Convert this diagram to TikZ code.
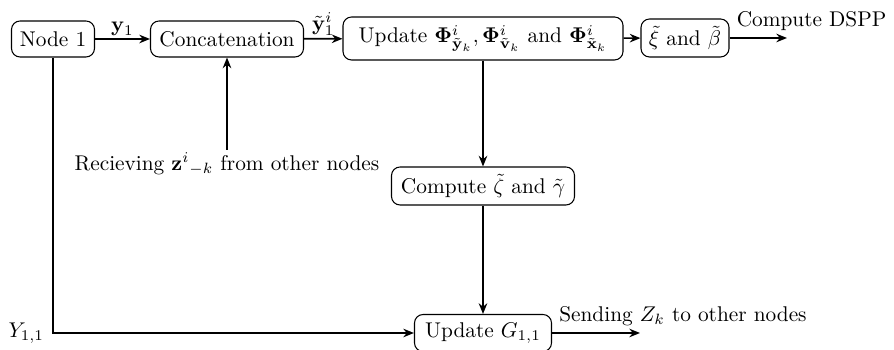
\documentclass[tikz,border=0pt]{standalone}
\usepackage{amsmath,amssymb}
\usetikzlibrary{arrows.meta}
\begin{document}
\begin{tikzpicture}[x=0.469pt,y=-0.469pt,
  box/.style={draw,rounded corners=4pt,inner sep=2pt,line width=0.5pt},
  arr/.style={-{Stealth[length=5pt,width=4pt]},line width=0.8pt},
  lbl/.style={inner sep=1pt}]
\useasboundingbox (0,0) rectangle (894,350);
\node[box,minimum width=83*0.469pt,minimum height=36*0.469pt] (n1) at (53,39) {Node 1};
\node[box,minimum width=153*0.469pt,minimum height=36*0.469pt] (cat) at (227,39) {Concatenation};
\node[box,minimum width=280*0.469pt,minimum height=43*0.469pt] (upd) at (483,38.5) {Update $\mathbf{\Phi}^i_{\tilde{\mathbf{y}}_k}, \mathbf{\Phi}^i_{\tilde{\mathbf{v}}_k}$ and $\mathbf{\Phi}^i_{\tilde{\mathbf{x}}_k}$};
\node[box,minimum width=88*0.469pt,minimum height=38*0.469pt] (xb) at (685,38) {$\tilde{\xi}$ and $\tilde{\beta}$};
\node[box,minimum width=183*0.469pt,minimum height=38*0.469pt] (cz) at (483,186) {Compute $\tilde{\zeta}$ and $\tilde{\gamma}$};
\node[box,minimum width=137*0.469pt,minimum height=37*0.469pt] (ug) at (483,333) {Update $G_{1,1}$};
\coordinate (dspp) at (787,38);
\coordinate (recv) at (227,150);
\coordinate (send) at (640,333);
\node[lbl,anchor=north] (recvlbl) at (recv) {Recieving ${\mathbf{z}^i}_{-k}$ from other nodes};
\node[lbl,anchor=east] (ylbl) at ([xshift=-3pt]n1 |- ug) {$Y_{1,1}$};
\draw[arr] (n1) -- node[lbl,above] {$\mathbf{y}_1$} (cat);
\draw[arr] (cat) -- node[lbl,above] {$\tilde{\mathbf{y}}^i_1$} (upd);
\draw[arr] (upd) -- (xb);
\draw[arr] (xb.east) -- (xb.east -| dspp) node[lbl,pos=0,anchor=south west,xshift=2pt,yshift=2pt] {Compute DSPP};
\draw[arr] (recv) -- (cat);
\draw[arr] (upd) -- (cz);
\draw[arr] (cz) -- (ug);
\draw[arr] (n1) |- (ug.west);
\draw[arr] (ug.east) -- (send) node[lbl,anchor=south west,pos=0,xshift=2pt,yshift=2pt] {Sending $Z_k$ to other nodes};
\end{tikzpicture}
\end{document}
